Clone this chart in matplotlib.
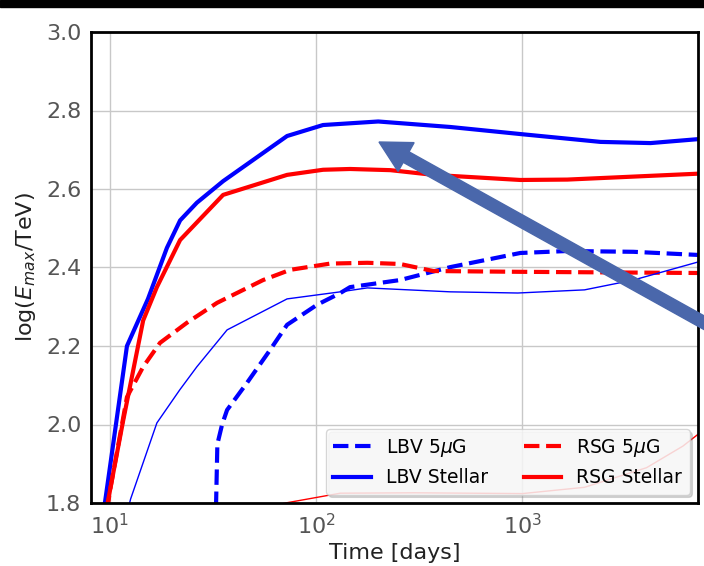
import matplotlib
matplotlib.use("Agg")
import matplotlib.pyplot as plt
from matplotlib.patches import FancyArrow, Rectangle

# Time [days] and log(Emax/TeV)
t_lbv_stellar = [9.4, 10.0, 12.1, 15.3, 18.9, 21.9, 26.4, 35.4, 72.3, 108, 200, 447, 977, 2390, 4180, 7100]
e_lbv_stellar = [1.79, 1.89, 2.20, 2.32, 2.45, 2.52, 2.565, 2.62, 2.735, 2.763, 2.772, 2.758, 2.74, 2.72, 2.717, 2.727]

t_rsg_stellar = [9.75, 11.6, 14.5, 16.9, 21.9, 35.4, 72.3, 108, 146, 229, 370, 977, 1650, 7100]
e_rsg_stellar = [1.80, 2.01, 2.265, 2.35, 2.47, 2.585, 2.636, 2.649, 2.651, 2.648, 2.636, 2.623, 2.624, 2.639]

t_lbv_5ug = [32.7, 33.2, 35.0, 37.0, 46.2, 59.8, 72.3, 101, 131, 146, 255, 447, 977, 1650, 3450, 7100]
e_lbv_5ug = [1.79, 1.95, 2.00, 2.037, 2.106, 2.19, 2.254, 2.305, 2.335, 2.35, 2.368, 2.401, 2.437, 2.442, 2.44, 2.432]

t_rsg_5ug = [9.7, 10.0, 12.1, 14.5, 17.5, 23.6, 33.1, 55.3, 74.8, 117, 177, 255, 370, 977, 7100]
e_rsg_5ug = [1.78, 1.83, 2.07, 2.147, 2.208, 2.259, 2.31, 2.368, 2.394, 2.41, 2.412, 2.409, 2.391, 2.389, 2.386]

# thin curves (no legend entry)
t_lbv_thin = [12.2, 12.6, 16.9, 21.8, 26.4, 37, 72.3, 131, 177, 447, 950, 2000, 3450, 7100]
e_lbv_thin = [1.78, 1.81, 2.004, 2.088, 2.147, 2.241, 2.32, 2.338, 2.348, 2.338, 2.335, 2.343, 2.368, 2.414]

t_rsg_thin = [60, 71, 131, 300, 1000, 2000, 4000, 6000, 7100]
e_rsg_thin = [1.79, 1.80, 1.825, 1.826, 1.824, 1.84, 1.89, 1.945, 1.975]

fig = plt.figure(figsize=(7.04, 5.66), dpi=100)
ax = fig.add_axes([91/704, 63/566, 607/704, 471/566])

ax.plot(t_lbv_5ug, e_lbv_5ug, '--', color='blue', lw=3, label=r'LBV 5$\mu$G')
ax.plot(t_lbv_stellar, e_lbv_stellar, '-', color='blue', lw=3, label='LBV Stellar')
ax.plot(t_rsg_5ug, e_rsg_5ug, '--', color='red', lw=3, label=r'RSG 5$\mu$G')
ax.plot(t_rsg_stellar, e_rsg_stellar, '-', color='red', lw=3, label='RSG Stellar')
ax.plot(t_lbv_thin, e_lbv_thin, '-', color='blue', lw=1)
ax.plot(t_rsg_thin, e_rsg_thin, '-', color='red', lw=1)

ax.set_xscale('log')
ax.set_xlim(8.1, 7100)
ax.set_ylim(1.8, 3.0)
ax.grid(True, color='#c8c8c8', lw=1)
ax.minorticks_off()
ax.tick_params(length=0, labelsize=16, labelcolor='#555555', pad=7)
for s in ax.spines.values():
    s.set_linewidth(2)
    s.set_color('black')

ax.set_xlabel('Time [days]', fontsize=16, color='#222222', labelpad=4)
ax.set_ylabel(r'log($E_{max}$/TeV)', fontsize=16, color='#222222', labelpad=6)

ax.legend(loc='lower right', ncol=2, fontsize=13.5, framealpha=0.8,
          edgecolor='#cccccc', fancybox=True, shadow={'color': '0.5', 'alpha': 0.3},
          columnspacing=1.9, borderaxespad=0.45)

# black strip at the top of the screenshot
fig.add_artist(Rectangle((0, 1 - 7/566), 1, 7/566, transform=fig.transFigure,
                         color='black', zorder=10))

# big pointer arrow, in inches
arrow = FancyArrow(7.10, 2.40, 3.79 - 7.10, 4.24 - 2.40, width=0.12,
                   head_width=0.33, head_length=0.31, length_includes_head=True,
                   color='#4a67ab', transform=fig.dpi_scale_trans, zorder=9)
fig.add_artist(arrow)

fig.savefig('out.png', dpi=100)
